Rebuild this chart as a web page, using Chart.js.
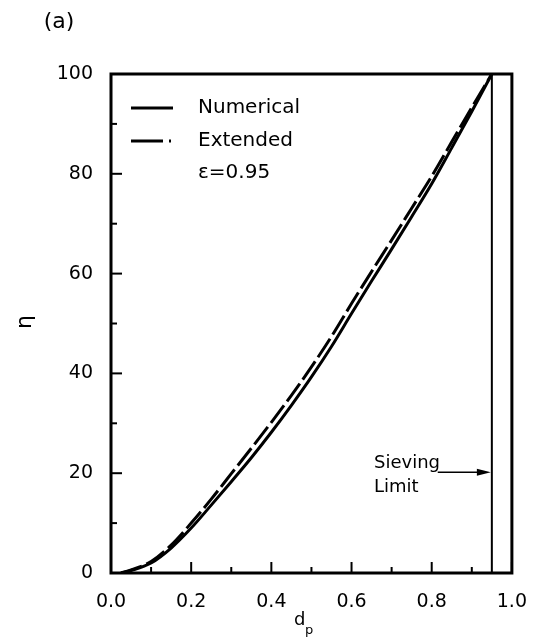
<!DOCTYPE html>
<html>
<head>
<meta charset="utf-8">
<script src="https://cdn.jsdelivr.net/npm/chart.js@4.4.1/dist/chart.umd.min.js"></script>
<style>
  html, body { margin: 0; padding: 0; background: #fff; }
  #wrap { width: 545px; height: 644px; }
</style>
</head>
<body>
<div id="wrap"><canvas id="chart"></canvas></div>
<script>
// values
const dpValues = [0.025, 0.05, 0.1, 0.15, 0.2, 0.25, 0.3, 0.35, 0.4, 0.45, 0.5, 0.55, 0.6, 0.65, 0.7, 0.75, 0.8, 0.85, 0.9, 0.95];
const numericalEta = [0, 0.5, 2.0, 5.0, 9.0, 13.6, 18.3, 23.1, 28.2, 33.6, 39.3, 45.4, 52.0, 58.5, 64.9, 71.4, 78.0, 85.2, 92.5, 100];
const extendedEta = [0, 0.6, 2.3, 5.6, 10.0, 14.8, 19.9, 25.0, 30.2, 35.6, 41.3, 47.4, 54.0, 60.4, 66.7, 73.1, 79.5, 86.4, 93.3, 100];
const seriesNames = ["Numerical", "Extended"];
const porosityText = "\u03b5=0.95";
const sievingLimit = 0.95;
const sievingText = ["Sieving", "Limit"];
const xTickValues = [0, 0.2, 0.4, 0.6, 0.8, 1.0];
const xMinorValues = [0.1, 0.3, 0.5, 0.7, 0.9];
const yTickValues = [0, 20, 40, 60, 80, 100];
const yMinorValues = [10, 30, 50, 70, 90];

const FONT = "'DejaVu Sans', sans-serif";
const ink = "#000";

const toPoints = (xs, ys) => xs.map((x, i) => ({ x: x, y: ys[i] }));

const decor = {
  id: "decor",
  afterDatasetsDraw(chart) {
    const ctx = chart.ctx;
    const a = chart.chartArea;
    const xs = chart.scales.x;
    const ys = chart.scales.y;
    ctx.save();
    ctx.strokeStyle = ink;
    ctx.fillStyle = ink;

    // sieving limit line
    ctx.lineWidth = 2;
    ctx.beginPath();
    ctx.moveTo(xs.getPixelForValue(sievingLimit), ys.getPixelForValue(0));
    ctx.lineTo(xs.getPixelForValue(sievingLimit), ys.getPixelForValue(100));
    ctx.stroke();

    // frame
    ctx.lineWidth = 3;
    ctx.strokeRect(a.left, a.top, a.right - a.left, a.bottom - a.top);

    // inward ticks
    ctx.lineWidth = 2;
    const tick = (vals, len) => {
      vals.forEach((v) => {
        const px = xs.getPixelForValue(v);
        ctx.beginPath();
        ctx.moveTo(px, a.bottom);
        ctx.lineTo(px, a.bottom - len);
        ctx.stroke();
      });
    };
    tick(xTickValues, 11);
    tick(xMinorValues, 6);
    const ytick = (vals, len) => {
      vals.forEach((v) => {
        const py = ys.getPixelForValue(v);
        ctx.beginPath();
        ctx.moveTo(a.left, py);
        ctx.lineTo(a.left + len, py);
        ctx.stroke();
      });
    };
    ytick(yTickValues, 11);
    ytick(yMinorValues, 6);

    // legend
    const ds = chart.data.datasets;
    const legX = a.left + 20;
    [108, 141].forEach((ly, i) => {
      ctx.lineWidth = ds[i].borderWidth;
      ctx.setLineDash(i === 0 ? [] : [32, 6, 2, 6]);
      ctx.beginPath();
      ctx.moveTo(legX, ly);
      ctx.lineTo(legX + 42, ly);
      ctx.stroke();
      ctx.setLineDash([]);
      ctx.font = "20px " + FONT;
      ctx.textAlign = "left";
      ctx.textBaseline = "middle";
      ctx.fillText(ds[i].label, 198, ly);
    });
    ctx.fillText(porosityText, 198, 173);

    // sieving limit annotation
    ctx.font = "18px " + FONT;
    ctx.fillText(sievingText[0], 374, 463);
    ctx.fillText(sievingText[1], 374, 487);
    const ay = ys.getPixelForValue(20.2);
    const ax0 = xs.getPixelForValue(0.815);
    const ax1 = xs.getPixelForValue(sievingLimit) - 1;
    ctx.lineWidth = 1.5;
    ctx.beginPath();
    ctx.moveTo(ax0, ay);
    ctx.lineTo(ax1 - 8, ay);
    ctx.stroke();
    ctx.beginPath();
    ctx.moveTo(ax1, ay);
    ctx.lineTo(ax1 - 14, ay - 3.5);
    ctx.lineTo(ax1 - 14, ay + 3.5);
    ctx.closePath();
    ctx.fill();

    // panel label and axis titles
    ctx.font = "22px " + FONT;
    ctx.textAlign = "center";
    ctx.fillText("(a)", 59, 22);
    ctx.font = "18px " + FONT;
    ctx.textAlign = "left";
    ctx.textBaseline = "alphabetic";
    ctx.fillText("d", 294, 625);
    ctx.font = "13px " + FONT;
    ctx.fillText("p", 305, 634);
    ctx.save();
    ctx.translate(25, 322);
    ctx.rotate(-Math.PI / 2);
    ctx.font = "22px " + FONT;
    ctx.textAlign = "center";
    ctx.textBaseline = "middle";
    ctx.fillText("\u03b7", 0, 0);
    ctx.restore();

    ctx.restore();
  },
};

new Chart(document.getElementById("chart"), {
  type: "line",
  data: {
    datasets: [
      {
        label: seriesNames[0],
        data: toPoints(dpValues, numericalEta),
        borderColor: ink,
        borderWidth: 3,
        pointRadius: 0,
        cubicInterpolationMode: "monotone",
      },
      {
        label: seriesNames[1],
        data: toPoints(dpValues, extendedEta),
        borderColor: ink,
        borderWidth: 3,
        borderDash: [22, 5],
        pointRadius: 0,
        cubicInterpolationMode: "monotone",
      },
    ],
  },
  options: {
    responsive: true,
    maintainAspectRatio: false,
    animation: false,
    layout: { padding: { top: 74, right: 24, left: 0, bottom: 0 } },
    plugins: { legend: { display: false }, tooltip: { enabled: false } },
    scales: {
      x: {
        type: "linear",
        min: 0,
        max: 1,
        afterBuildTicks: (s) => { s.ticks = xTickValues.map((v) => ({ value: v })); },
        afterFit: (s) => { s.height = 71; },
        grid: { display: false, drawTicks: false },
        border: { display: false },
        ticks: {
          padding: 18,
          color: ink,
          font: { family: FONT, size: 19 },
          callback: (v) => v.toFixed(1),
        },
      },
      y: {
        type: "linear",
        min: 0,
        max: 100,
        afterBuildTicks: (s) => { s.ticks = yTickValues.map((v) => ({ value: v })); },
        afterFit: (s) => { s.width = 111; },
        grid: { display: false, drawTicks: false },
        border: { display: false },
        ticks: {
          padding: 18,
          color: ink,
          font: { family: FONT, size: 19 },
        },
      },
    },
  },
  plugins: [decor],
});
</script>
</body>
</html>
